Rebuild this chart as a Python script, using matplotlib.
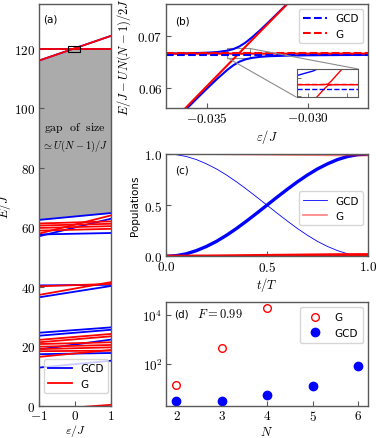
"""Level diagram, avoided crossing, populations and transfer times (4 panels)."""
import numpy as np
import matplotlib
matplotlib.use("Agg")
import matplotlib.pyplot as plt
from matplotlib.patches import Rectangle
from mpl_toolkits.axes_grid1.inset_locator import mark_inset

plt.rcParams["mathtext.fontset"] = "cm"
plt.rcParams["font.family"] = ["DejaVu Sans"]

BLUE = "#0000ff"
RED = "#ff0000"
SPINE = "0.35"

# ---- (a) spectrum vs eps/J : level energies at eps=-1 and eps=+1
eps_edges = [-1.0, 1.0]
gcd_left = [12.9, 17.4, 19.0, 23.6, 24.6, 36.5, 40.5, 57.0, 57.6, 62.5, 116.0, 120.0]
gcd_right = [15.2, 17.8, 22.3, 25.6, 26.4, 40.3, 40.7, 62.9, 58.1, 64.8, 124.3, 120.0]
g_left = [-1.4, 16.5, 18.4, 19.1, 19.9, 20.8, 21.4, 22.2, 37.3, 40.2,
          57.9, 58.9, 59.8, 60.6, 61.3, 116.0, 120.0]
g_right = [0.4, 18.8, 18.6, 19.7, 20.5, 21.4, 23.4, 24.2, 41.6, 41.0,
           64.0, 59.5, 60.4, 61.2, 62.0, 124.3, 120.0]
gap_low_idx = 9          # top GCD level of the lower band
gap_high_idx = [15, 16]  # the two G levels of the upper band
zoom_box_eps = (-0.20, 0.15)
zoom_box_E = (119.0, 121.0)

# ---- (b) avoided crossing, E/J - UN(N-1)/2J
gcd_up_eps = [-0.0371, -0.0360, -0.0350, -0.0345, -0.0340, -0.0337, -0.0334, -0.0331,
              -0.0328, -0.0324, -0.0320, -0.0315, -0.0310, -0.0305]
gcd_up_E = [0.06660, 0.06666, 0.06678, 0.06691, 0.06718, 0.06748, 0.06799, 0.06873,
            0.06965, 0.07102, 0.07249, 0.07438, 0.07630, 0.07824]
gcd_lo_eps = [-0.0365, -0.0360, -0.0355, -0.0350, -0.0345, -0.0340, -0.0337, -0.0334,
              -0.0331, -0.0328, -0.0324, -0.0320, -0.0310, -0.0300, -0.0285, -0.0270]
gcd_lo_E = [0.05419, 0.05613, 0.05806, 0.05996, 0.06180, 0.06351, 0.06439, 0.06507,
            0.06551, 0.06578, 0.06598, 0.06610, 0.06623, 0.06629, 0.06634, 0.06637]
g_up_eps = [-0.0371, -0.0336, -0.03350, -0.03344, -0.03338, -0.0333, -0.0305]
g_up_E = [0.06660, 0.06660, 0.06661, 0.06664, 0.06684, 0.06716, 0.07821]
g_lo_eps = [-0.0365, -0.0336, -0.03350, -0.03344, -0.03338, -0.0333, -0.0270]
g_lo_E = [0.05451, 0.06597, 0.06636, 0.06656, 0.06659, 0.06660, 0.06660]
gcd_ref = 0.06630
g_ref = 0.06663

# ---- (c) populations vs t/T
t = [0.00, 0.05, 0.10, 0.15, 0.20, 0.25, 0.30, 0.35, 0.40, 0.45, 0.50,
     0.55, 0.60, 0.65, 0.70, 0.75, 0.80, 0.85, 0.90, 0.95, 1.00]
gcd_target = [0.000, 0.006, 0.024, 0.055, 0.096, 0.146, 0.206, 0.273, 0.346, 0.422, 0.500,
              0.578, 0.654, 0.727, 0.794, 0.854, 0.904, 0.946, 0.976, 0.994, 1.000]
gcd_initial = [1.000, 0.994, 0.976, 0.946, 0.904, 0.854, 0.794, 0.727, 0.654, 0.578, 0.500,
               0.422, 0.346, 0.273, 0.206, 0.146, 0.096, 0.055, 0.024, 0.006, 0.000]
g_initial = [1.000, 1.000, 1.000, 0.999, 0.999, 0.998, 0.997, 0.996, 0.995, 0.994, 0.993,
             0.992, 0.991, 0.990, 0.989, 0.988, 0.987, 0.986, 0.986, 0.985, 0.985]
g_target = [0.000, 0.000, 0.000, 0.001, 0.001, 0.002, 0.003, 0.004, 0.005, 0.006, 0.007,
            0.008, 0.009, 0.010, 0.011, 0.012, 0.013, 0.014, 0.014, 0.015, 0.015]

# ---- (d) time needed for F = 0.99
n_g = [2, 3, 4]
time_g = [14.5, 470.0, 19900.0]
n_gcd = [2, 3, 4, 5, 6]
time_gcd = [3.2, 3.2, 5.5, 13.0, 85.0]


def style(ax):
    for sp in ax.spines.values():
        sp.set_color(SPINE)
        sp.set_linewidth(1.0)
    ax.tick_params(direction="in", length=3.5, width=0.8, color=SPINE, pad=2.5,
                   labelsize=9.5, top=False, right=False)


def mticks(vals):
    return [f"${v}$" for v in vals]


fig = plt.figure(figsize=(3.76, 4.39), dpi=100)

# ------------------------------------------------------------------ (a)
ax = fig.add_axes([0.1037, 0.0729, 0.1915, 0.9157])
x = np.linspace(-1, 1, 201)
lo = np.interp(x, eps_edges, [gcd_left[gap_low_idx], gcd_right[gap_low_idx]])
hi = np.minimum(*[np.interp(x, eps_edges, [g_left[i], g_right[i]]) for i in gap_high_idx])
ax.fill_between(x, lo, hi, color="#ababab", lw=0, zorder=0)
for a, b in zip(gcd_left, gcd_right):
    ax.plot(eps_edges, [a, b], color=BLUE, lw=1.3)
for a, b in zip(g_left, g_right):
    ax.plot(eps_edges, [a, b], color=RED, lw=1.3)
ax.plot([], [], color=BLUE, lw=1.3, label="GCD")
ax.plot([], [], color=RED, lw=1.3, label="G")
ax.add_patch(Rectangle((zoom_box_eps[0], zoom_box_E[0]), zoom_box_eps[1] - zoom_box_eps[0],
                       zoom_box_E[1] - zoom_box_E[0], fill=False, ec="black", lw=0.8, zorder=5))
ax.text(0, 93.8, r"$\mathrm{gap\ \ of\ \ size}$", ha="center", va="center", fontsize=8.5)
ax.text(0, 87.6, r"$\simeq U(N-1)/J$", ha="center", va="center", fontsize=7.5)
ax.text(0.06, 0.965, "(a)", transform=ax.transAxes, fontsize=7.5, va="center")
ax.set_xlim(-1, 1)
ax.set_ylim(0, 135)
ax.set_xticks([-1, 0, 1], mticks([-1, 0, 1]))
ax.set_yticks([0, 20, 40, 60, 80, 100, 120], mticks([0, 20, 40, 60, 80, 100, 120]))
ax.set_xlabel(r"$\varepsilon/J$", fontsize=8.5, labelpad=0)
ax.set_ylabel(r"$E/J$", fontsize=9, labelpad=1)
ax.legend(loc="lower left", fontsize=7.5, handlelength=2.3, borderpad=0.4,
          bbox_to_anchor=(0.0, 0.02))
style(ax)

# ------------------------------------------------------------------ (b)
axb = fig.add_axes([0.4415, 0.7517, 0.537, 0.2369])


def draw_b(axx, lw):
    axx.plot(gcd_up_eps, gcd_up_E, color=BLUE, lw=lw)
    axx.plot(gcd_lo_eps, gcd_lo_E, color=BLUE, lw=lw)
    axx.plot(g_up_eps, g_up_E, color=RED, lw=lw)
    axx.plot(g_lo_eps, g_lo_E, color=RED, lw=lw)
    axx.axhline(gcd_ref, color=BLUE, ls="--", lw=lw, label="GCD")
    axx.axhline(g_ref, color=RED, ls="--", lw=lw, label="G")


draw_b(axb, 1.5)
axb.set_xlim(-0.03704, -0.02704)
axb.set_ylim(0.0562, 0.0761)
axb.set_xticks([-0.035, -0.030], [r"$-0.035$", r"$-0.030$"])
axb.set_yticks([0.06, 0.07], [r"$0.06$", r"$0.07$"])
axb.set_xlabel(r"$\varepsilon/J$", fontsize=9, labelpad=1)
axb.set_ylabel(r"$E/J-UN(N-1)/2J$", fontsize=9, labelpad=3)
axb.text(0.045, 0.84, "(b)", transform=axb.transAxes, fontsize=7.5, va="center")
axb.legend(loc="upper right", fontsize=7.5, handlelength=2.3, borderpad=0.4)
style(axb)

axi = axb.inset_axes([0.647, 0.103, 0.305, 0.272])
draw_b(axi, 1.0)
axi.set_xlim(-0.0340, -0.0329)
axi.set_ylim(0.0658, 0.0676)
axi.set_xticks([-0.0338, -0.0331], ["", ""])
axi.set_yticks([0.0659, 0.0670], ["", ""])
for sp in axi.spines.values():
    sp.set_color(SPINE)
    sp.set_linewidth(0.8)
axi.tick_params(direction="in", length=3, width=0.6, color=SPINE)
mark_inset(axb, axi, loc1=1, loc2=3, fc="none", ec="0.55", lw=0.8)

# ------------------------------------------------------------------ (c)
axc = fig.add_axes([0.4415, 0.4139, 0.537, 0.2330])
axc.plot(t, gcd_target, color=BLUE, lw=2.4)
axc.plot(t, gcd_initial, color=BLUE, lw=0.6, label="GCD")
axc.plot(t, g_target, color=RED, lw=2.4)
axc.plot(t, g_initial, color=RED, lw=1.2, alpha=0.5, label="G")
axc.set_xlim(0, 1)
axc.set_ylim(0, 1)
axc.set_xticks([0, 0.5, 1], [r"$0.0$", r"$0.5$", r"$1.0$"])
axc.set_yticks([0, 0.5, 1], [r"$0.0$", r"$0.5$", r"$1.0$"])
axc.set_xlabel(r"$t/T$", fontsize=9, labelpad=1)
axc.set_ylabel("Populations", fontsize=7.5, labelpad=3)
axc.text(0.045, 0.85, "(c)", transform=axc.transAxes, fontsize=7.5, va="center")
axc.legend(loc="center right", fontsize=7.5, handlelength=2.3, borderpad=0.4,
           bbox_to_anchor=(1.0, 0.47))
style(axc)

# ------------------------------------------------------------------ (d)
axd = fig.add_axes([0.4415, 0.0736, 0.537, 0.2362])
axd.plot(n_g, time_g, "o", ms=5.5, mfc="none", mec=RED, mew=1.0, label="G")
axd.plot(n_gcd, time_gcd, "o", ms=6, color=BLUE, label="GCD")
axd.set_yscale("log")
axd.set_xlim(1.77, 6.21)
axd.set_ylim(10 ** 0.32, 10 ** 4.53)
axd.set_yticks([1e2, 1e4], [r"$10^2$", r"$10^4$"])
axd.yaxis.set_minor_locator(matplotlib.ticker.NullLocator())
axd.set_xticks([2, 3, 4, 5, 6], mticks([2, 3, 4, 5, 6]))
axd.set_xlabel(r"$N$", fontsize=9, labelpad=1)
axd.text(0.04, 0.885, "(d)", transform=axd.transAxes, fontsize=7.5, va="center")
axd.text(0.155, 0.885, r"$F=0.99$", transform=axd.transAxes, fontsize=9, va="center")
axd.legend(loc="upper right", fontsize=7.5, borderpad=0.5, handletextpad=0.8)
style(axd)

fig.savefig("out.png", dpi=100)
